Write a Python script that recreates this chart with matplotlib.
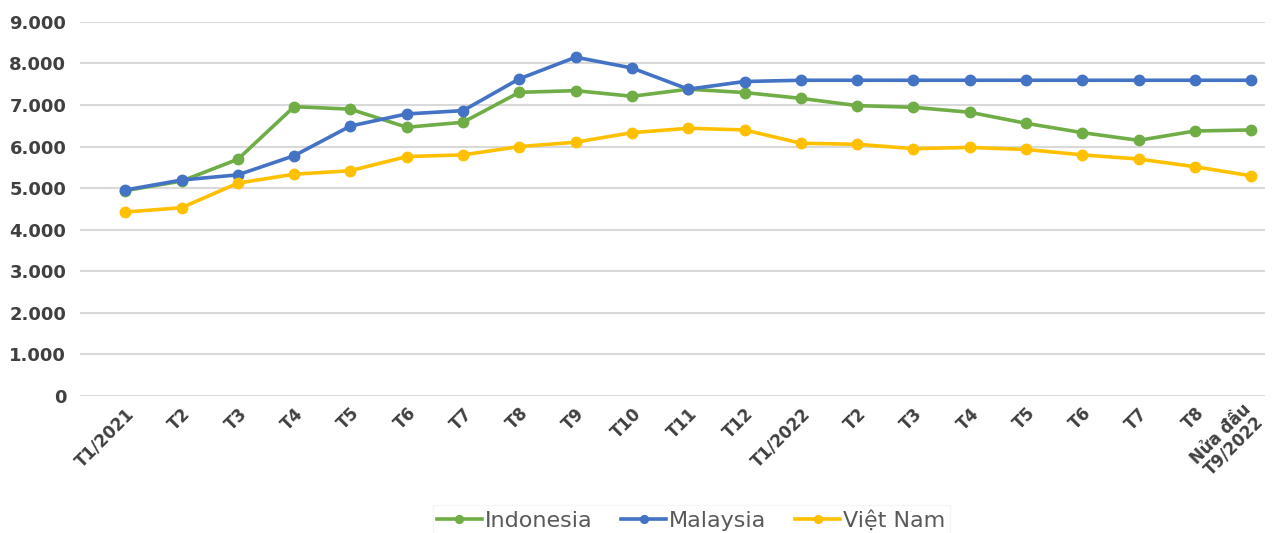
import matplotlib.pyplot as plt
import matplotlib.transforms as mtransforms
from matplotlib.ticker import FuncFormatter

# categories (months)
months = ['T1/2021', 'T2', 'T3', 'T4', 'T5', 'T6', 'T7', 'T8', 'T9', 'T10', 'T11', 'T12',
          'T1/2022', 'T2', 'T3', 'T4', 'T5', 'T6', 'T7', 'T8', 'Nửa đầu\nT9/2022']

# series values
indonesia = [4940, 5170, 5695, 6960, 6900, 6465, 6585, 7305, 7345, 7210, 7380, 7300,
             7160, 6985, 6945, 6825, 6560, 6335, 6150, 6375, 6400]
malaysia = [4955, 5195, 5320, 5780, 6495, 6785, 6865, 7630, 8150, 7890, 7380, 7565,
            7595, 7595, 7595, 7595, 7595, 7595, 7595, 7595, 7595]
vietnam = [4425, 4530, 5120, 5335, 5420, 5760, 5800, 6000, 6105, 6335, 6440, 6400,
           6080, 6055, 5950, 5980, 5930, 5800, 5700, 5515, 5295]

yticks = [0, 1000, 2000, 3000, 4000, 5000, 6000, 7000, 8000, 9000]

fig = plt.figure(figsize=(12.73, 5.33), dpi=100)
ax = fig.add_axes([0.063, 0.257, 0.931, 0.702])

x = list(range(len(months)))
ax.plot(x, indonesia, color='#70AD47', lw=2.6, marker='o', ms=7.5, label='Indonesia')
ax.plot(x, malaysia, color='#4472C4', lw=2.6, marker='o', ms=7.5, label='Malaysia')
ax.plot(x, vietnam, color='#FFC000', lw=2.6, marker='o', ms=7.5, label='Việt Nam')

ax.set_ylim(0, 9000)
ax.set_xlim(-0.8, 20.25)
ax.set_yticks(yticks)
ax.yaxis.set_major_formatter(FuncFormatter(lambda v, p: f'{int(v):,}'.replace(',', '.')))
ax.grid(axis='y', color='#D9D9D9', lw=1.5)
ax.set_axisbelow(True)
for s in ax.spines.values():
    s.set_visible(False)
ax.tick_params(axis='both', length=0)
ax.tick_params(axis='y', pad=10, labelsize=13, labelcolor='#404040')
for t in ax.get_yticklabels():
    t.set_fontweight('bold')

ax.set_xticks(x)
ax.set_xticklabels(months, rotation=45, ha='right', rotation_mode='anchor',
                   fontsize=12, fontweight='bold', color='#404040', linespacing=0.95)
ax.tick_params(axis='x', pad=6)
# last label is two lines, pull it a bit left so it stays inside the figure
last = ax.get_xticklabels()[-1]
last.set_multialignment('right')
last.set_transform(last.get_transform() + mtransforms.ScaledTranslation(-9 / 100, 4 / 100, fig.dpi_scale_trans))

leg = fig.legend(loc='center', bbox_to_anchor=(0.543, 0.024), ncol=3, frameon=True,
                 fontsize=16, handlelength=2.0, columnspacing=1.3, handletextpad=0.15,
                 fancybox=False, edgecolor='#F4F4F4', borderpad=0.2, markerscale=0.75)
for t in leg.get_texts():
    t.set_color('#595959')

fig.savefig('out.png', dpi=100)
